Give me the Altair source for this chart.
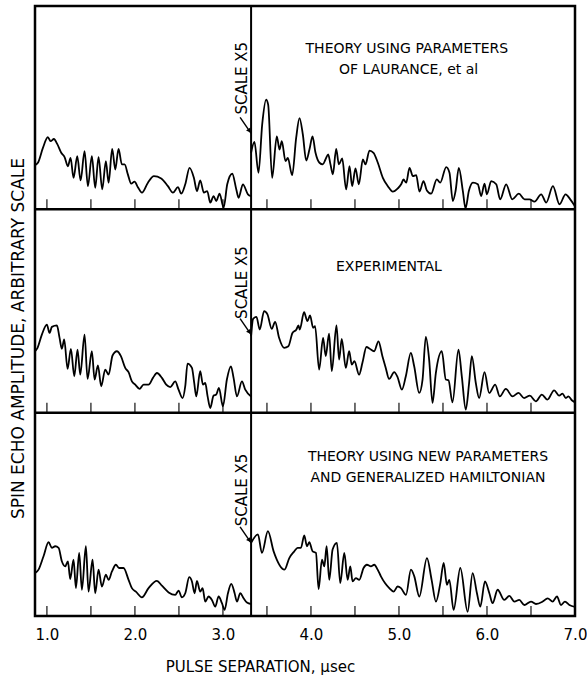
import altair as alt
import pandas as pd

# ---------------- data ----------------
# pulse separation (microseconds) and echo amplitude (percent of panel height)
# Panel 1: theory, parameters of Laurance et al.
p1_left_x = [0.865, 0.898, 0.955, 1.011, 1.042, 1.080, 1.117, 1.163, 1.201, 1.239, 1.269, 1.303,
             1.345, 1.383, 1.428, 1.466, 1.511, 1.549, 1.587, 1.629, 1.670, 1.701, 1.742, 1.777,
             1.814, 1.852, 1.883, 1.920, 1.958, 1.996, 2.034, 2.080, 2.148, 2.216, 2.299, 2.375,
             2.432, 2.489, 2.527, 2.572, 2.621, 2.670, 2.705, 2.742, 2.784, 2.822, 2.856, 2.894,
             2.924, 2.962, 3.008, 3.049, 3.106, 3.152, 3.178, 3.227, 3.284, 3.32]
p1_left_y = [21.7, 22.9, 30.2, 35.5, 33.5, 34.6, 32.2, 27.8, 25.7, 21.2, 25.3, 15.5,
             26.1, 14.2, 28.6, 11.4, 26.1, 10.6, 25.7, 9.8, 23.7, 13.1, 29.7, 19.6,
             29.7, 22.1, 22.1, 17.2, 12.6, 13.6, 10.9, 8.2, 13.1, 16.3, 15.2, 11.4,
             8.2, 10.9, 7.7, 12.3, 20.4, 15.5, 9.0, 14.2, 8.2, 9.0, 3.3, 6.5,
             4.1, 7.7, 0.8, 12.3, 17.5, 9.8, 5.7, 12.3, 7.4, 6.5]
p1_right_x = [3.32, 3.358, 3.404, 3.446, 3.491, 3.514, 3.559, 3.612, 3.643, 3.669, 3.711, 3.737,
              3.787, 3.832, 3.870, 3.908, 3.946, 3.983, 4.018, 4.052, 4.097, 4.135, 4.165, 4.196,
              4.222, 4.249, 4.287, 4.317, 4.355, 4.400, 4.438, 4.468, 4.506, 4.544, 4.590, 4.620,
              4.665, 4.711, 4.760, 4.817, 4.874, 4.930, 4.987, 5.025, 5.052, 5.082, 5.120, 5.158,
              5.196, 5.233, 5.279, 5.317, 5.366, 5.430, 5.468, 5.537, 5.574, 5.612, 5.643, 5.680,
              5.726, 5.756, 5.794, 5.840, 5.896, 5.934, 5.972, 5.999, 6.048, 6.105, 6.150, 6.218,
              6.287, 6.362, 6.427, 6.483, 6.540, 6.616, 6.673, 6.749, 6.824, 6.893, 6.946, 7.0]
p1_right_y = [27.8, 33.2, 18.0, 41.7, 53.9, 51.5, 15.5, 35.9, 29.4, 33.5, 23.7, 25.3,
              16.8, 35.1, 44.9, 36.8, 24.0, 29.4, 35.9, 27.8, 22.9, 22.1, 24.5, 27.0,
              22.1, 17.2, 29.7, 22.1, 25.0, 9.8, 21.2, 11.4, 20.1, 12.3, 24.5, 22.1,
              28.9, 27.8, 22.9, 15.5, 11.4, 8.7, 10.3, 12.3, 14.7, 13.1, 20.4, 16.3,
              16.8, 8.7, 13.9, 9.3, 7.7, 14.7, 13.1, 20.8, 18.0, 4.1, 9.0, 20.4,
              9.0, 0.5, 9.0, 13.1, 12.3, 6.5, 12.6, 7.4, 13.9, 12.3, 4.9, 12.3,
              4.9, 7.7, 4.9, 4.9, 3.8, 7.4, 3.3, 11.4, 2.5, 7.4, 4.9, 1.5]

# Panel 2: experimental
p2_left_x = [0.865, 0.894, 0.943, 1.000, 1.030, 1.057, 1.114, 1.144, 1.170, 1.197, 1.235, 1.273,
             1.311, 1.348, 1.379, 1.428, 1.462, 1.511, 1.542, 1.580, 1.617, 1.663, 1.701, 1.746,
             1.795, 1.841, 1.890, 1.928, 1.966, 2.004, 2.053, 2.098, 2.155, 2.205, 2.250, 2.307,
             2.356, 2.402, 2.458, 2.496, 2.542, 2.572, 2.598, 2.648, 2.674, 2.697, 2.742, 2.773,
             2.799, 2.826, 2.856, 2.894, 2.924, 2.955, 3.000, 3.045, 3.091, 3.121, 3.159, 3.216,
             3.254, 3.32]
p2_left_y = [30.2, 31.9, 38.4, 43.3, 39.2, 42.2, 42.9, 36.8, 31.4, 36.0, 21.5, 31.4,
             17.9, 31.0, 18.7, 38.4, 16.6, 30.2, 16.3, 23.2, 13.0, 21.2, 18.7, 28.1,
             30.2, 27.8, 22.0, 19.9, 15.4, 13.8, 11.7, 13.8, 13.8, 17.1, 19.5, 17.1,
             13.8, 12.6, 15.4, 11.3, 7.2, 13.0, 24.1, 22.0, 14.6, 8.0, 20.4, 13.8,
             14.6, 8.0, 2.3, 8.4, 8.9, 12.2, 3.1, 16.3, 22.8, 17.1, 8.0, 15.4,
             11.3, 8.0]
p2_right_x = [3.32, 3.343, 3.381, 3.418, 3.468, 3.506, 3.555, 3.593, 3.638, 3.695, 3.744, 3.790,
              3.835, 3.858, 3.873, 3.922, 3.960, 3.990, 4.025, 4.047, 4.093, 4.138, 4.168, 4.206,
              4.237, 4.290, 4.320, 4.350, 4.396, 4.434, 4.464, 4.494, 4.547, 4.585, 4.631, 4.668,
              4.718, 4.767, 4.812, 4.850, 4.888, 4.946, 4.983, 5.033, 5.078, 5.135, 5.173, 5.230,
              5.268, 5.305, 5.343, 5.381, 5.419, 5.487, 5.532, 5.563, 5.608, 5.676, 5.714, 5.759,
              5.797, 5.828, 5.873, 5.911, 5.972, 6.025, 6.093, 6.146, 6.214, 6.290, 6.358, 6.422,
              6.487, 6.555, 6.623, 6.687, 6.763, 6.820, 6.858, 6.896, 6.926, 6.964, 7.0]
p2_right_y = [37.6, 46.1, 47.1, 40.9, 49.9, 48.3, 41.2, 44.7, 36.8, 31.9, 32.7, 39.2,
              40.9, 42.9, 40.9, 49.4, 45.0, 47.8, 41.7, 42.5, 21.2, 36.8, 27.8, 38.9,
              20.4, 42.9, 26.1, 36.3, 22.0, 30.2, 23.6, 25.3, 18.7, 24.5, 32.3, 31.4,
              30.2, 35.1, 27.8, 22.0, 16.6, 19.9, 17.6, 11.3, 17.9, 29.4, 22.8, 9.7,
              16.3, 37.3, 26.1, 4.8, 19.5, 30.2, 16.3, 15.9, 5.1, 31.0, 17.9, 1.5,
              14.6, 27.8, 14.6, 7.2, 19.9, 9.7, 13.8, 8.0, 11.7, 8.0, 9.7, 7.2,
              8.4, 5.6, 8.9, 6.4, 11.0, 8.4, 9.4, 7.2, 8.0, 6.1, 5.0]

# Panel 3: theory, new parameters and generalized Hamiltonian
p3_left_x = [0.867, 0.905, 0.962, 1.019, 1.057, 1.095, 1.133, 1.170, 1.208, 1.239, 1.265, 1.303,
             1.330, 1.367, 1.398, 1.443, 1.473, 1.519, 1.549, 1.587, 1.625, 1.670, 1.701, 1.739,
             1.784, 1.822, 1.871, 1.928, 1.966, 2.011, 2.080, 2.155, 2.250, 2.307, 2.383, 2.458,
             2.496, 2.534, 2.572, 2.617, 2.648, 2.678, 2.705, 2.742, 2.769, 2.799, 2.837, 2.875,
             2.913, 2.951, 2.989, 3.019, 3.057, 3.095, 3.133, 3.159, 3.197, 3.235, 3.273, 3.32]
p3_left_y = [21.1, 22.8, 29.4, 36.3, 33.5, 34.3, 33.5, 26.9, 24.4, 26.9, 18.2, 27.7,
             13.7, 31.0, 12.9, 34.3, 12.0, 27.7, 11.2, 22.8, 14.5, 20.3, 17.8, 21.9,
             25.2, 23.6, 23.6, 17.8, 13.7, 12.0, 9.2, 13.7, 17.3, 14.9, 11.6, 10.4,
             12.5, 9.2, 11.2, 19.1, 17.0, 11.2, 17.3, 12.0, 13.7, 7.1, 9.6, 7.9,
             4.6, 9.6, 6.3, 3.0, 11.2, 15.8, 11.2, 7.1, 11.2, 8.7, 6.6, 5.9]
p3_right_x = [3.32, 3.398, 3.443, 3.511, 3.576, 3.700, 3.754, 3.811, 3.848, 3.886, 3.924, 3.955,
              3.981, 4.019, 4.057, 4.087, 4.125, 4.152, 4.178, 4.208, 4.246, 4.295, 4.333, 4.379,
              4.417, 4.447, 4.473, 4.511, 4.549, 4.598, 4.636, 4.682, 4.720, 4.758, 4.795, 4.841,
              4.890, 4.939, 4.985, 5.023, 5.080, 5.136, 5.174, 5.231, 5.318, 5.371, 5.420, 5.470,
              5.508, 5.545, 5.572, 5.621, 5.697, 5.780, 5.837, 5.886, 5.924, 5.977, 6.027, 6.064,
              6.121, 6.197, 6.254, 6.311, 6.367, 6.424, 6.500, 6.557, 6.633, 6.689, 6.746, 6.795,
              6.841, 6.886, 6.936, 7.0]
p3_right_y = [36.0, 40.1, 31.0, 41.7, 31.8, 22.8, 28.5, 31.8, 33.5, 33.5, 39.6, 34.3,
              36.3, 31.8, 31.0, 13.2, 27.7, 24.4, 34.3, 17.8, 32.7, 36.0, 16.2, 31.0,
              17.8, 24.4, 17.0, 18.6, 17.8, 23.6, 25.2, 24.4, 25.2, 22.8, 19.5, 16.2,
              13.7, 12.0, 14.5, 13.7, 10.4, 22.8, 19.5, 9.6, 28.5, 17.8, 7.1, 16.2,
              26.1, 15.3, 17.8, 3.0, 23.6, 2.1, 21.1, 11.2, 4.6, 17.0, 11.2, 6.3,
              12.9, 7.9, 9.9, 7.1, 7.9, 5.4, 7.1, 5.9, 7.1, 8.7, 7.1, 9.6,
              5.4, 7.1, 5.4, 4.5]

# annotations
panel_titles = [["THEORY USING PARAMETERS", "OF LAURANCE, et al"],
                ["EXPERIMENTAL"],
                ["THEORY USING NEW PARAMETERS", "AND GENERALIZED HAMILTONIAN"]]
panel_title_x = [[5.09, 5.11], [4.886], [5.33, 5.33]]
panel_title_amp = [[78.8, 68.5], [71.4], [78.3, 68.0]]
scale_break = 3.32               # the "SCALE X5" change, in microseconds
scale_label = "SCALE X5"
scale_label_amp = [64.5, 64.0, 62.0]
scale_arrow_amp = [37.4, 38.4, 36.0]
minor_ticks = [1.0, 1.5, 2.0, 2.5, 3.0, 3.5, 4.0, 4.5, 5.0, 5.5, 6.0, 6.5]
tick_labels = [1.0, 2.0, 3.0, 4.0, 5.0, 6.0, 7.0]
x_title = "PULSE SEPARATION, \u03bcsec"
y_title = "SPIN ECHO AMPLITUDE, ARBITRARY SCALE"

# ---------------- build tables ----------------
curves = [(p1_left_x, p1_left_y, p1_right_x, p1_right_y),
          (p2_left_x, p2_left_y, p2_right_x, p2_right_y),
          (p3_left_x, p3_left_y, p3_right_x, p3_right_y)]
rows = []
for i, (lx, ly, rx, ry) in enumerate(curves):
    base = 100 * (2 - i)
    for seg, xs_, ys_ in (("left", lx, ly), ("right", rx, ry)):
        for x, a in zip(xs_, ys_):
            rows.append({"t": x, "y": a + base, "series": f"{i}-{seg}"})
curve_df = pd.DataFrame(rows)

title_rows = []
for i in range(3):
    for txt, x, a in zip(panel_titles[i], panel_title_x[i], panel_title_amp[i]):
        title_rows.append({"t": x, "y": a + 100 * (2 - i), "text": txt})
title_df = pd.DataFrame(title_rows)

ann_df = pd.DataFrame({
    "t": [scale_break] * 3,
    "label_y": [a + 100 * (2 - i) for i, a in enumerate(scale_label_amp)],
    "arrow_y": [a + 100 * (2 - i) for i, a in enumerate(scale_arrow_amp)],
    "text": [scale_label] * 3,
})
tick_df = pd.DataFrame([{"t": t, "y": 100 * (2 - i)} for i in range(3) for t in minor_ticks])
sep_df = pd.DataFrame({"y": [100, 200]})
brk_df = pd.DataFrame({"t": [scale_break]})

FONT = "DejaVu Sans"
xs = alt.Scale(domain=[0.865, 7.0], nice=False, zero=False)
ys = alt.Scale(domain=[0, 300], nice=False, zero=False)

x_axis = alt.Axis(values=tick_labels, format=".1f", ticks=False, domain=False, grid=False,
                  labelFont=FONT, labelFontSize=15, labelColor="black", labelPadding=11,
                  labelFlush=False,
                  title=x_title, titleFont=FONT, titleFontSize=15, titleFontWeight="normal",
                  titleColor="black", titleX=225, titleY=50, titleBaseline="middle")
y_axis = alt.Axis(labels=False, ticks=False, domain=False, grid=False,
                  title=y_title, titleFont=FONT, titleFontSize=17, titleFontWeight="normal",
                  titleColor="black", titleX=-17, titleY=332, titleBaseline="middle")

lines = alt.Chart(curve_df).mark_line(color="black", strokeWidth=1.8, interpolate="monotone",
                                      clip=True).encode(
    x=alt.X("t:Q", scale=xs, axis=x_axis),
    y=alt.Y("y:Q", scale=ys, axis=y_axis),
    detail="series:N",
)

seps = alt.Chart(sep_df).mark_rule(color="black", strokeWidth=2.5).encode(
    y=alt.Y("y:Q", scale=ys))
brk = alt.Chart(brk_df).mark_rule(color="black", strokeWidth=2).encode(
    x=alt.X("t:Q", scale=xs))
ticks = alt.Chart(tick_df).mark_tick(orient="vertical", size=10, thickness=1.6, color="black",
                                     yOffset=-5).encode(
    x=alt.X("t:Q", scale=xs), y=alt.Y("y:Q", scale=ys))

titles = alt.Chart(title_df).mark_text(font=FONT, fontSize=14, color="black",
                                       align="center", baseline="middle").encode(
    x=alt.X("t:Q", scale=xs), y=alt.Y("y:Q", scale=ys), text="text:N")

scale_txt = alt.Chart(ann_df).mark_text(font=FONT, fontSize=15, color="black", angle=270,
                                        align="center", baseline="middle", dy=-9).encode(
    x=alt.X("t:Q", scale=xs), y=alt.Y("label_y:Q", scale=ys), text="text:N")
arrow_line = alt.Chart(ann_df).mark_rule(color="black", strokeWidth=1.4,
                                         xOffset=-11, yOffset=-16).encode(
    x=alt.X("t:Q", scale=xs), x2="t:Q",
    y=alt.Y("arrow_y:Q", scale=ys), y2="arrow_y:Q")
arrow_head = alt.Chart(ann_df).mark_point(shape="triangle", angle=145, filled=True, size=28,
                                          color="black", opacity=1, xOffset=-2,
                                          yOffset=-3).encode(
    x=alt.X("t:Q", scale=xs), y=alt.Y("arrow_y:Q", scale=ys))

chart = alt.layer(lines, seps, brk, ticks, titles, scale_txt, arrow_line, arrow_head).properties(
    width=540, height=610,
    padding={"left": 35, "top": 6, "right": 12, "bottom": 61},
    autosize=alt.AutoSizeParams(type="none"),
    background="white",
).configure_view(stroke="black", strokeWidth=2.5)

chart.save("out.html", embed_options={"renderer": "svg", "actions": False})
